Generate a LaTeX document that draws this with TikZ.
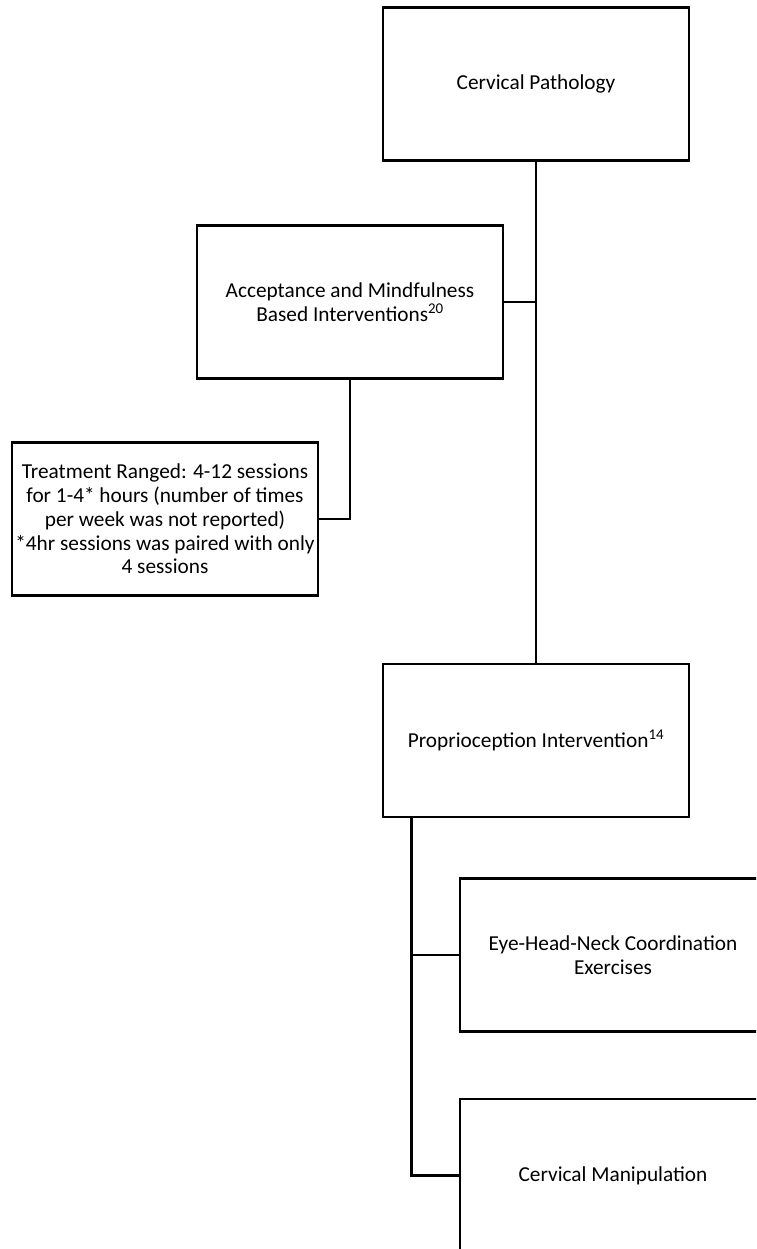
\documentclass[tikz,border=0pt]{standalone}
\usepackage{fontspec}
\setmainfont{Carlito}
\usetikzlibrary{positioning}

\begin{document}
\begin{tikzpicture}[x=1pt, y=-1pt, line width=2.6pt,
  every node/.style={font=\fontsize{21.3}{23.8}\selectfont},
  topicbox/.style={draw, align=center, minimum width=306pt, minimum height=153pt, inner sep=0pt}]
\clip (0,0) rectangle (756,1249);
\node [topicbox] (cervpath) at (536,84) {Cervical Pathology};
\node [topicbox] (accept) at (350,302) {Acceptance and Mindfulness \\ Based Interventions\textsuperscript{20}};
\node [topicbox] (treat) at (165,519) {Treatment Ranged: 4-12 sessions \\ for 1-4* hours (number of times \\ per week was not reported) \\ *4hr sessions was paired with only \\ 4 sessions};
\node [topicbox, below=501pt of cervpath] (proprio) {Proprioception Intervention\textsuperscript{14}};
\node [topicbox] (eyehead) at (613,955) {Eye-Head-Neck Coordination \\ Exercises};
\node [topicbox, below=65pt of eyehead] (manip) {Cervical Manipulation};
\coordinate (trunk) at ([xshift=30pt]proprio.south west);
\draw (cervpath) -- (proprio);
\draw (accept.east) -- (accept.east -| cervpath.south);
\draw (accept.south) |- (treat.east);
\draw (trunk) |- (manip.west);
\draw (eyehead.west) -- (eyehead.west -| trunk);
\end{tikzpicture}
\end{document}
